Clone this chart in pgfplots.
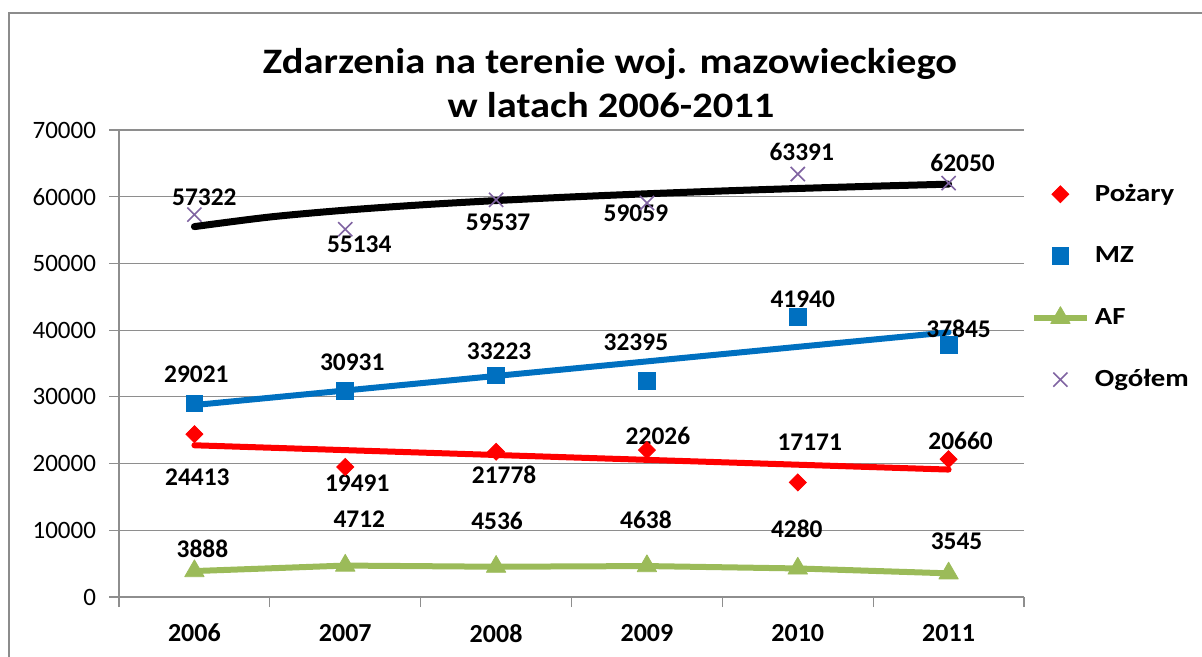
\documentclass[border=0pt]{standalone}
\usepackage{fontspec}
\setmainfont{Carlito}
\newfontfamily\titlefont[FakeStretch=1.13]{Carlito}
\newfontfamily\legfont[FakeStretch=1.17]{Carlito}
\usepackage{pgfplots}
\pgfplotsset{compat=1.18}

\definecolor{frame}{HTML}{8C8C8C}
\definecolor{gridc}{HTML}{8E8E8E}
\definecolor{mzblue}{HTML}{0070C0}
\definecolor{afgreen}{HTML}{9BBB59}
\definecolor{ogpurple}{HTML}{8064A2}

\tikzset{lbl/.style={font=\bfseries\fontsize{12.7}{14}\selectfont, inner sep=0pt}}
\pgfplotsset{myleg/.style={legend image code/.code={
    \path[draw=none, fill=none] (0pt,-6pt) rectangle (26.5pt,6pt);
    \draw[mark repeat=2, mark phase=2, ##1] plot coordinates {(0pt,0pt) (13.25pt,0pt) (26.5pt,0pt)};}}}

% data label: centre offset (pt) from the data point
\newcommand{\lab}[5]{\node[lbl, xshift=#3pt, yshift=#4pt] at (axis cs:#1,#2) {#5};}

\begin{document}
\begin{tikzpicture}
\path[use as bounding box] (0,0) rectangle (601pt,-328.5pt);
\draw[line width=1pt, draw=frame] (4.5pt,-330pt) -- (4.5pt,-6.5pt) -- (602pt,-6.5pt);

\node[anchor=base, font=\titlefont\bfseries\fontsize{17.9}{20}\selectfont] at (305pt,-36.75pt) {Zdarzenia na terenie woj. mazowieckiego};
\node[anchor=base, font=\titlefont\bfseries\fontsize{17.9}{20}\selectfont] at (305.5pt,-59pt) {w latach 2006-2011};

\begin{axis}[
    at={(59.5pt,-298.5pt)}, anchor=south west,
    scale only axis, width=452.5pt, height=233.5pt,
    xmin=-0.5, xmax=5.5, ymin=0, ymax=70000,
    clip=false,
    axis x line*=bottom, axis y line*=left,
    axis line style={draw=gridc, line width=0.6pt},
    ymajorgrids, grid style={draw=gridc, line width=0.6pt},
    tick style={draw=gridc, line width=0.6pt},
    tick align=outside, major tick length=5pt,
    ytick={0,10000,...,70000}, scaled y ticks=false,
    yticklabel style={font=\fontsize{12.5}{14}\selectfont, xshift=-3pt,
        /pgf/number format/assume math mode=true, /pgf/number format/1000 sep={}},
    xtick={-0.5,0.5,...,5.5}, xticklabels={},
    extra x ticks={0,1,2,3,4,5},
    extra x tick labels={2006,2007,2008,2009,2010,2011},
    extra x tick style={tick style={draw=none},
        tick label style={font=\bfseries\fontsize{13}{15}\selectfont, yshift=-5pt}},
    legend style={at={(1.0072,0.889)}, anchor=north west, draw=none, fill=none,
        inner sep=0pt, row sep=18.9pt, column sep=2.5pt,
        font=\legfont\bfseries\fontsize{12.3}{14}\selectfont,
        nodes={inner sep=0pt, anchor=west}},
    legend cell align=left,
]

\addplot[only marks, mark=square*, mark size=3.0pt,
    mark options={rotate=45, draw=red, fill=red}, myleg]
    coordinates {(0,24413) (1,19491) (2,21778) (3,22026) (4,17171) (5,20660)};
\addlegendentry{Pożary}

\addplot[only marks, mark=square*, mark size=4.2pt,
    mark options={draw=mzblue, fill=mzblue}, myleg]
    coordinates {(0,29021) (1,30931) (2,33223) (3,32395) (4,41940) (5,37845)};
\addlegendentry{MZ}

\addplot[afgreen, line width=3pt, line join=round, mark=triangle*, mark size=5.6pt,
    mark options={solid, line width=0.4pt, draw=afgreen, fill=afgreen}, myleg]
    coordinates {(0,3888) (1,4712) (2,4536) (3,4638) (4,4280) (5,3545)};
\addlegendentry{AF}

\addplot[only marks, mark=x, mark size=5pt,
    mark options={draw=ogpurple, line width=0.8pt}, myleg]
    coordinates {(0,57322) (1,55134) (2,59537) (3,59059) (4,63391) (5,62050)};
\addlegendentry{Ogółem}

% trend lines (linear for Pożary and MZ, logarithmic for Ogółem)
\addplot[forget plot, red, line width=3pt, line cap=round]
    coordinates {(0,22743) (5,19103)};
\addplot[forget plot, mzblue, line width=3pt, line cap=round]
    coordinates {(0,28775) (5,39677)};
\addplot[forget plot, black, line width=3.5pt, line cap=round, smooth]
    coordinates {(0,55522) (0.5,56962) (1,57983) (1.5,58776) (2,59423) (2.5,59970)
                 (3,60444) (3.5,60863) (4,61236) (4.5,61575) (5,61884)};

% data labels
\lab{0}{57322}{5}{8.5}{57322}
\lab{1}{55134}{7}{-7.5}{55134}
\lab{2}{59537}{1}{-11}{59537}
\lab{3}{59059}{-5.5}{-5}{59059}
\lab{4}{63391}{2}{11}{63391}
\lab{5}{62050}{7}{10}{62050}

\lab{0}{29021}{1}{14.7}{29021}
\lab{1}{30931}{3.5}{14.3}{30931}
\lab{2}{33223}{1.5}{12}{33223}
\lab{3}{32395}{-5.5}{19.5}{32395}
\lab{4}{41940}{2.5}{9}{41940}
\lab{5}{37845}{5}{8}{37845}

\lab{0}{24413}{1.5}{-21.5}{24413}
\lab{1}{19491}{6}{-8}{19491}
\lab{2}{21778}{4}{-11.5}{21778}
\lab{3}{22026}{5.5}{7}{22026}
\lab{4}{17171}{6}{20}{17171}
\lab{5}{20660}{6}{9}{20660}

\lab{0}{3888}{4}{11}{3888}
\lab{1}{4712}{7}{23}{4712}
\lab{2}{4536}{0.5}{23}{4536}
\lab{3}{4638}{-0.5}{23}{4638}
\lab{4}{4280}{-0.5}{20}{4280}
\lab{5}{3545}{4}{16}{3545}
\end{axis}
\end{tikzpicture}
\end{document}
